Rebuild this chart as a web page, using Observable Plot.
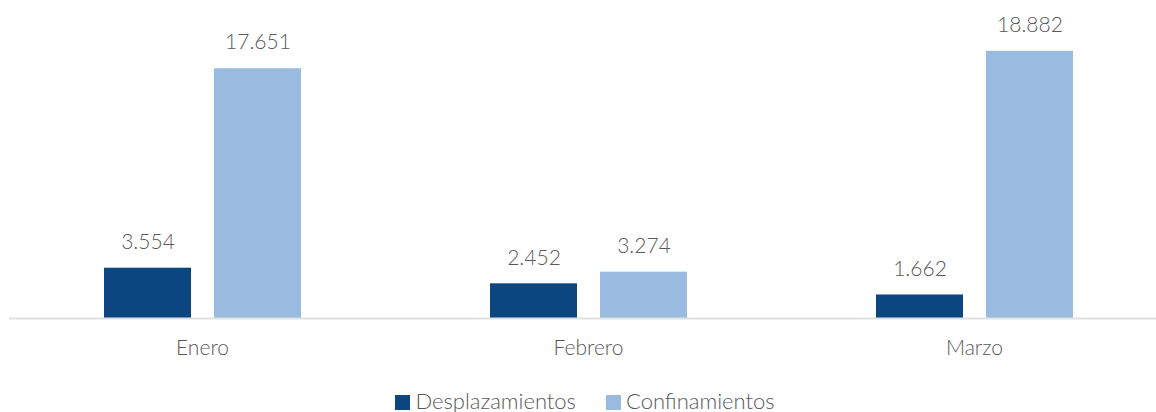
<!DOCTYPE html>
<html><head><meta charset="utf-8">
<script src="https://cdn.jsdelivr.net/npm/d3@7"></script>
<script src="https://cdn.jsdelivr.net/npm/@observablehq/plot@0.6"></script>
<style>
body{margin:0;background:#fff;font-family:Lato,"Open Sans",sans-serif;font-weight:300;}
#legend{display:flex;justify-content:center;gap:30px;font-size:22px;color:#595959;line-height:22px;margin-left:14px}
#legend span.sw{display:inline-block;width:15px;height:15px;margin-right:5px;vertical-align:-1px}
</style></head><body>
<div id="chart"></div>
<div id="legend"></div>
<script>
const months = ["Enero","Febrero","Marzo"];
const series = ["Desplazamientos","Confinamientos"];
const desplazamientos = [3554, 2452, 1662];
const confinamientos = [17651, 3274, 18882];
const colors = ["#0c4680","#99bbe0"];

const data = [];
months.forEach((m,i)=>{
  data.push({month:m, serie:series[0], value:desplazamientos[i]});
  data.push({month:m, serie:series[1], value:confinamientos[i]});
});
const fmt = d3.formatLocale({decimal:",", thousands:".", grouping:[3]}).format(",d");

function build(useSuper){
  return Plot.plot({
    width:1156, height:390,
    marginTop:35, marginBottom:72, marginLeft:0, marginRight:0,
    style:{fontFamily:"Lato, 'Open Sans', sans-serif", fontSize:"21px", fontWeight:300, color:"#595959", background:"#fff"},
    fx:{domain:months, range:[8,1168], padding:0, label:null, axis:"bottom", tickSize:0, tickPadding:22},
    x:{domain:series, range:[94,292], paddingInner:0.21, paddingOuter:0, axis:null},
    y:{domain:[0,20000], axis:null},
    color:{domain:series, range:colors},
    marks:[
      Plot.barY(data,{fx:"month", x:"serie", y:"value", fill:"serie"}),
      Plot.text(data,{fx:"month", x:"serie", y:"value", text:d=>fmt(d.value), dy:-26, fill:"#595959", fontSize:21, fontWeight:300}),
      useSuper ? Plot.ruleY([0],{facet:"super", stroke:"#e0e0e0", strokeWidth:2, insetLeft:10, insetRight:0})
               : Plot.ruleY([0],{stroke:"#e0e0e0", strokeWidth:2})
    ]
  });
}
let chart;
try { chart = build(true); } catch(e) { chart = build(false); }
document.getElementById("chart").appendChild(chart);

const lg = document.getElementById("legend");
series.forEach((s,i)=>{
  const d = document.createElement("div");
  d.innerHTML = `<span class="sw" style="background:${colors[i]}"></span>${s}`;
  lg.appendChild(d);
});
</script>
</body></html>
